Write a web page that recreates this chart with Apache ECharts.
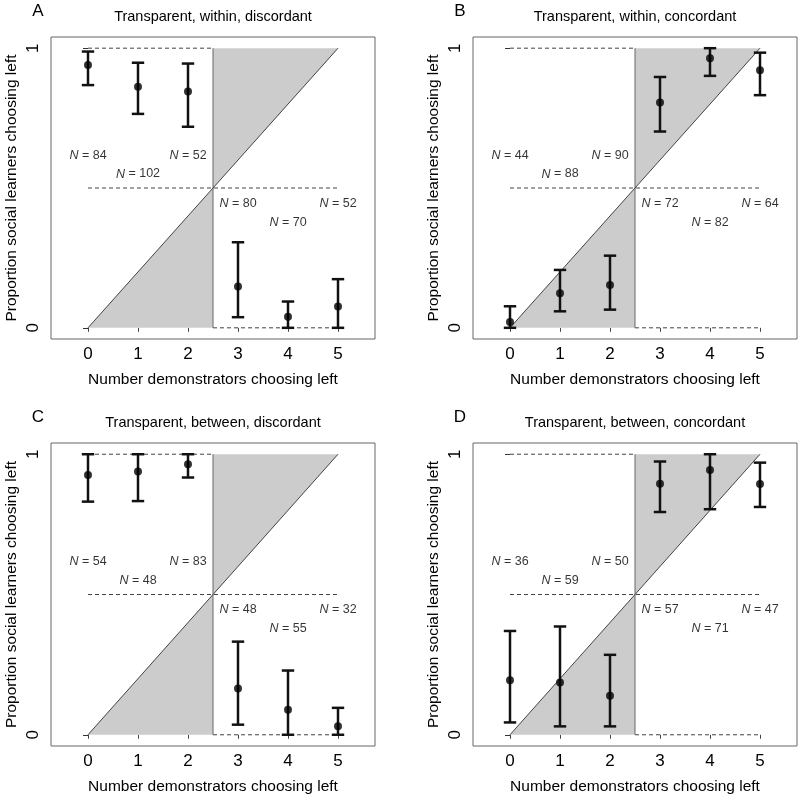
<!DOCTYPE html>
<html>
<head>
<meta charset="utf-8">
<script src="https://cdn.jsdelivr.net/npm/echarts@6/dist/echarts.min.js"></script>
<style>html,body{margin:0;padding:0;background:#fff}#c{width:800px;height:797px}</style>
</head>
<body>
<div id="c"></div>
<script>
// ---- data ----
const xTicks = [0, 1, 2, 3, 4, 5];
const yTicks = [0, 1];
const panelLetters = ['A', 'B', 'C', 'D'];
const panelTitles = ['Transparent, within, discordant', 'Transparent, within, concordant',
                     'Transparent, between, discordant', 'Transparent, between, concordant'];
const xTitle = 'Number demonstrators choosing left';
const yTitle = 'Proportion social learners choosing left';

const meanA = [0.940, 0.862, 0.845, 0.148, 0.040, 0.076];
const loA   = [0.868, 0.765, 0.719, 0.038, 0.000, 0.000];
const hiA   = [0.988, 0.948, 0.945, 0.306, 0.094, 0.174];
const nA    = [84, 102, 52, 80, 70, 52];

const meanB = [0.021, 0.124, 0.153, 0.806, 0.964, 0.921];
const loB   = [0.000, 0.059, 0.065, 0.702, 0.901, 0.832];
const hiB   = [0.077, 0.207, 0.258, 0.897, 1.000, 0.984];
const nB    = [44, 88, 90, 72, 82, 64];

const meanC = [0.926, 0.938, 0.964, 0.165, 0.089, 0.030];
const loC   = [0.831, 0.833, 0.917, 0.036, 0.000, 0.000];
const hiC   = [1.000, 1.000, 1.000, 0.332, 0.229, 0.096];
const nC    = [54, 48, 83, 48, 55, 32];

const meanD = [0.194, 0.186, 0.139, 0.895, 0.944, 0.894];
const loD   = [0.044, 0.030, 0.030, 0.794, 0.804, 0.812];
const hiD   = [0.370, 0.386, 0.285, 0.974, 1.000, 0.970];
const nD    = [36, 59, 50, 57, 71, 47];

const nLabelY = [0.617, 0.55, 0.617, 0.445, 0.377, 0.445];

// reference geometry (data coordinates)
const shadePolys = [[[0, 0], [2.5, 0], [2.5, 0.5]], [[2.5, 0.5], [2.5, 1], [5, 1]]];
const diagonal = [[0, 0, 5, 1]];
const vertical = [[2.5, 0, 2.5, 1]];
const dashedRefs = [[0, 1, 2.5, 1], [2.5, 0, 5, 0], [0, 0.5, 5, 0.5]];

// ---- chart ----
const FONT = 'Liberation Sans, Arial, Helvetica, sans-serif';
const panels = [
  {mean: meanA, lo: loA, hi: hiA, n: nA},
  {mean: meanB, lo: loB, hi: hiB, n: nB},
  {mean: meanC, lo: loC, hi: hiC, n: nC},
  {mean: meanD, lo: loD, hi: hiD, n: nD}
];
const gridPos = [
  {left: 51, top: 37, width: 324, height: 302},
  {left: 473, top: 37, width: 324, height: 302},
  {left: 51, top: 443, width: 324, height: 303},
  {left: 473, top: 443, width: 324, height: 303}
];

const grid = [], xAxis = [], yAxis = [], series = [], graphic = [];

function segSeries(i, rows, color, width, dash) {
  return {
    type: 'custom', xAxisIndex: i, yAxisIndex: i, silent: true, clip: false,
    data: rows,
    renderItem: function (params, api) {
      const p1 = api.coord([api.value(0), api.value(1)]);
      const p2 = api.coord([api.value(2), api.value(3)]);
      return {type: 'line', shape: {x1: p1[0], y1: p1[1], x2: p2[0], y2: p2[1]},
              style: {stroke: color, lineWidth: width, lineDash: dash || null}};
    }
  };
}

panels.forEach(function (pd, i) {
  const g = gridPos[i];
  grid.push(Object.assign({show: true, borderColor: '#666', borderWidth: 1, backgroundColor: 'transparent'}, g));
  xAxis.push({
    gridIndex: i, type: 'value', min: -0.74, max: 5.74,
    axisLine: {show: false}, splitLine: {show: false},
    axisTick: {show: true, customValues: xTicks, length: 4, lineStyle: {color: '#444', width: 1}},
    axisLabel: {customValues: xTicks, fontSize: 17, color: '#000', margin: 7, fontFamily: FONT},
    name: xTitle, nameLocation: 'middle', nameGap: 33,
    nameTextStyle: {fontSize: 15.5, color: '#000', fontFamily: FONT}
  });
  yAxis.push({
    gridIndex: i, type: 'value', min: -0.04, max: 1.04,
    axisLine: {show: false}, splitLine: {show: false},
    axisTick: {show: true, customValues: yTicks, length: 5, lineStyle: {color: '#333', width: 1}},
    axisLabel: {customValues: yTicks, rotate: 90, fontSize: 17, color: '#000', margin: 9, fontFamily: FONT},
    name: yTitle, nameLocation: 'middle', nameGap: 31,
    nameTextStyle: {fontSize: 15.5, color: '#000', fontFamily: FONT}
  });

  // shaded polygons
  series.push({
    type: 'custom', xAxisIndex: i, yAxisIndex: i, silent: true, clip: false,
    data: shadePolys.map(function (_, k) { return [k]; }),
    renderItem: function (params, api) {
      const poly = shadePolys[params.dataIndex];
      return {type: 'polygon', shape: {points: poly.map(function (p) { return api.coord(p); })},
              style: {fill: '#cccccc', stroke: null}};
    }
  });
  series.push(segSeries(i, dashedRefs, '#444', 1, [4, 3]));
  series.push(segSeries(i, vertical, '#666', 1));
  series.push(segSeries(i, diagonal, '#444', 1));

  // error bars
  series.push({
    type: 'custom', xAxisIndex: i, yAxisIndex: i, silent: true, clip: false,
    data: xTicks.map(function (x, k) { return [x, pd.lo[k], pd.hi[k]]; }),
    renderItem: function (params, api) {
      const lo = api.coord([api.value(0), api.value(1)]);
      const hi = api.coord([api.value(0), api.value(2)]);
      const st = {stroke: '#111', lineWidth: 2.5};
      const hw = 6.2;
      return {type: 'group', children: [
        {type: 'line', shape: {x1: lo[0], y1: lo[1], x2: hi[0], y2: hi[1]}, style: st},
        {type: 'line', shape: {x1: lo[0] - hw, y1: lo[1], x2: lo[0] + hw, y2: lo[1]}, style: st},
        {type: 'line', shape: {x1: hi[0] - hw, y1: hi[1], x2: hi[0] + hw, y2: hi[1]}, style: st}
      ]};
    }
  });
  // points
  series.push({
    type: 'scatter', xAxisIndex: i, yAxisIndex: i, silent: true,
    symbol: 'circle', symbolSize: 8, itemStyle: {color: '#000'},
    data: xTicks.map(function (x, k) { return [x, pd.mean[k]]; })
  });
  // N labels
  series.push({
    type: 'scatter', xAxisIndex: i, yAxisIndex: i, silent: true,
    symbolSize: 0,
    data: xTicks.map(function (x, k) { return {value: [x, nLabelY[k]], n: pd.n[k]}; }),
    label: {
      show: true, position: 'inside',
      formatter: function (p) { return '{i|N} = ' + p.data.n; },
      fontSize: 12.5, color: '#000', fontFamily: FONT,
      rich: {i: {fontStyle: 'italic', fontSize: 12.5, color: '#000', fontFamily: FONT}}
    }
  });

  // title & letter
  graphic.push({
    type: 'text', x: g.left + g.width / 2, y: g.top - 20, silent: true,
    style: {text: panelTitles[i], fontSize: 14.5, fontFamily: FONT, fill: '#000',
            textAlign: 'center', textVerticalAlign: 'middle'}
  });
  graphic.push({
    type: 'text', x: g.left - 13, y: g.top - 26, silent: true,
    style: {text: panelLetters[i], fontSize: 17, fontFamily: FONT, fill: '#000',
            textAlign: 'center', textVerticalAlign: 'middle'}
  });
});

const chart = echarts.init(document.getElementById('c'), null, {renderer: 'canvas'});
chart.setOption({
  animation: false, backgroundColor: '#fff',
  grid: grid, xAxis: xAxis, yAxis: yAxis, series: series, graphic: graphic
});
</script>
</body>
</html>
